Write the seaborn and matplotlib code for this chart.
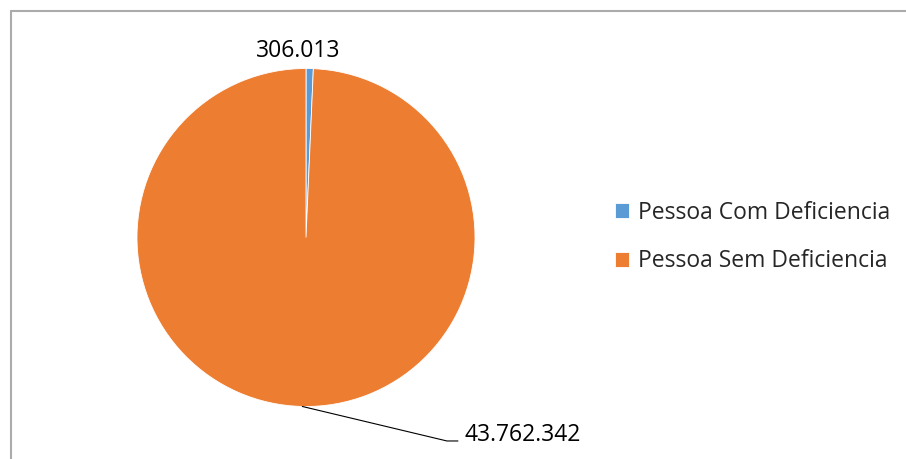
import matplotlib
matplotlib.use("Agg")
import matplotlib.pyplot as plt
from matplotlib.lines import Line2D
import numpy as np
import seaborn as sns

categories = ["Pessoa Com Deficiencia", "Pessoa Sem Deficiencia"]
values = [306013, 43762342]
value_labels = ["306.013", "43.762.342"]
colors = ["#5B9BD5", "#ED7D31"]

sns.set_theme(style="white")
plt.rcParams["font.family"] = ["Open Sans", "DejaVu Sans"]

W, H = 906, 459
fig = plt.figure(figsize=(W / 100, H / 100), dpi=100)
fig.patch.set_facecolor("white")

cx, cy, r = 306, 237.5, 169
ax = fig.add_axes([(cx - r) / W, (H - cy - r) / H, 2 * r / W, 2 * r / H])
wedges, _ = ax.pie(values, colors=colors, startangle=90, counterclock=False,
                   wedgeprops=dict(edgecolor="white", linewidth=0.6))
ax.set_xlim(-1, 1)
ax.set_ylim(-1, 1)
ax.set_aspect("equal")
ax.axis("off")

fs = 16.5
# label for small slice (above)
ax.text(-0.044, 1.068, value_labels[0], ha="center", va="baseline",
        fontsize=fs, color="black", clip_on=False)

# label for large slice with leader line
w1 = wedges[1]
mid = np.deg2rad((w1.theta1 + w1.theta2) / 2)
x0, y0 = np.cos(mid), np.sin(mid)
xk, yk = 0.834, -1.204
xe = 0.899
ax.add_line(Line2D([x0, xk, xe], [y0, yk, yk], color="black", lw=0.8, clip_on=False))
ax.text(0.935, yk, value_labels[1], ha="left", va="baseline",
        fontsize=fs, color="black", clip_on=False)

# legend
fig.legend(wedges, categories, loc="center left",
           bbox_to_anchor=(615 / W, 1 - 237 / H), frameon=False,
           fontsize=fs, borderpad=0, borderaxespad=0,
           handlelength=0.62, handleheight=0.62, handletextpad=0.4,
           labelspacing=1.08)

# chart border (left and top visible)
fig.add_artist(Line2D([11 / W, 11 / W], [0, 1 - 11 / H], color="#ABABAB", lw=1.5,
                      transform=fig.transFigure))
fig.add_artist(Line2D([11 / W, 1], [1 - 11 / H, 1 - 11 / H], color="#ABABAB", lw=1.5,
                      transform=fig.transFigure))

fig.savefig("out.png", dpi=100, facecolor="white")
